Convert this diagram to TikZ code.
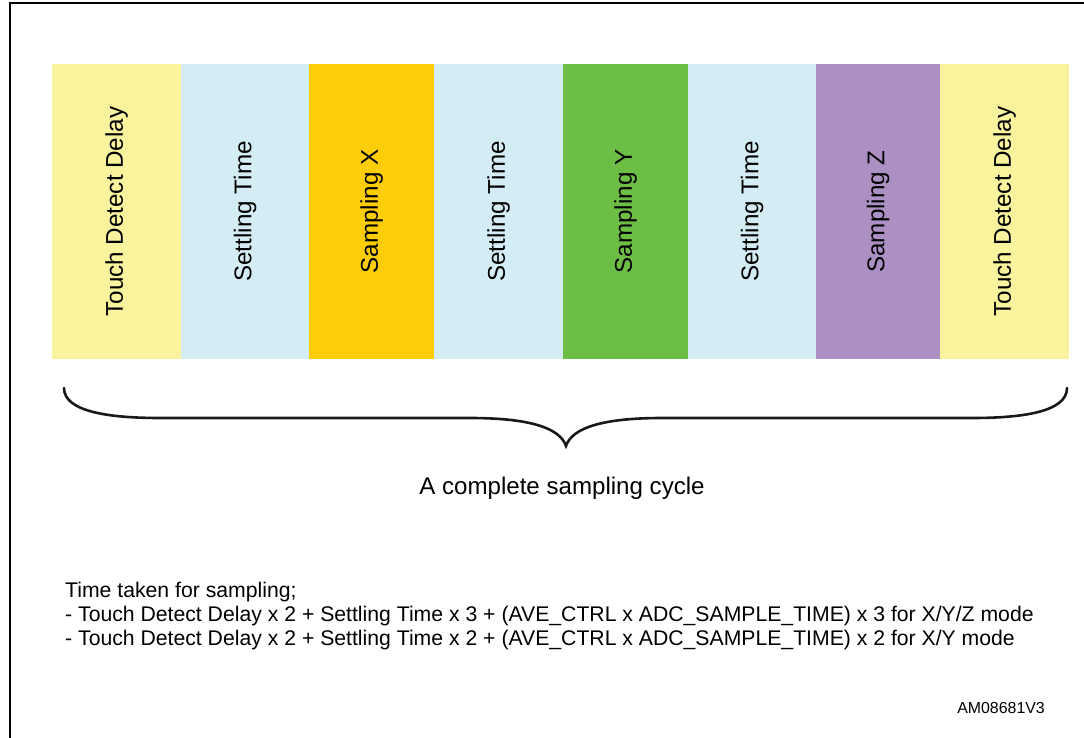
\documentclass[tikz,border=0pt]{standalone}
\usepackage{fontspec}
\setmainfont{Liberation Sans}
\definecolor{cyel}{RGB}{250,243,158}
\definecolor{cblu}{RGB}{212,236,243}
\definecolor{corg}{RGB}{253,206,7}
\definecolor{cgrn}{RGB}{109,190,69}
\definecolor{cpur}{RGB}{172,143,195}
\begin{document}
\begin{tikzpicture}[x=1pt,y=-1pt,
  col/.style={rotate=90,inner sep=0pt,minimum width=295pt,
    font=\fontsize{24.2}{28}\selectfont,text=black},
  frame/.style={line width=2.2pt,black},
  brace/.style={line width=2.6pt,black!90,line cap=round},
  note/.style={anchor=base west,inner sep=0pt,font=\fontsize{21.2}{24}\selectfont}]
\useasboundingbox (0,0) rectangle (1084,738);
\draw[frame] (10,738) -- (10,3) -- (1084,3);
\node[col,fill=cyel,minimum height=129pt] (c1) at (116.5,211.5) {Touch Detect Delay};
\node[col,fill=cblu,minimum height=128pt] (c2) at (245,211.5) {Settling Time};
\node[col,fill=corg,minimum height=125pt] (c3) at (371.5,211.5) {Sampling X};
\node[col,fill=cblu,minimum height=129pt] (c4) at (498.5,211.5) {Settling Time};
\node[col,fill=cgrn,minimum height=125pt] (c5) at (625.5,211.5) {Sampling Y};
\node[col,fill=cblu,minimum height=128pt] (c6) at (752,211.5) {Settling Time};
\node[col,fill=cpur,minimum height=124pt] (c7) at (878,211.5) {Sampling Z};
\node[col,fill=cyel,minimum height=129pt] (c8) at (1004.5,211.5) {Touch Detect Delay};
\coordinate (bl) at (64,388);
\coordinate (br) at (1067,388);
\coordinate (bm) at (566,446);
\draw[brace] (bl) .. controls (64,412) and (110,418) .. (160,418) -- (470,418)
  .. controls (530,418) and (560,428) .. (bm)
  .. controls (572,428) and (602,418) .. (662,418) -- (972,418)
  .. controls (1022,418) and (1067,412) .. (br);
\node[font=\fontsize{24.1}{28}\selectfont,inner sep=0pt] (cap) at (562,488) {A complete sampling cycle};
\node[note] (n1) at (65,597) {Time taken for sampling;};
\node[note] (n2) at (65,621) {- Touch Detect Delay x 2 + Settling Time x 3 + (AVE\_CTRL x ADC\_SAMPLE\_TIME) x 3 for X/Y/Z mode};
\node[note] (n3) at (65,645) {- Touch Detect Delay x 2 + Settling Time x 2 + (AVE\_CTRL x ADC\_SAMPLE\_TIME) x 2 for X/Y mode};
\node[anchor=base east,inner sep=0pt,font=\fontsize{15.9}{18}\selectfont] (id) at (1045,713) {AM08681V3};
\end{tikzpicture}
\end{document}
